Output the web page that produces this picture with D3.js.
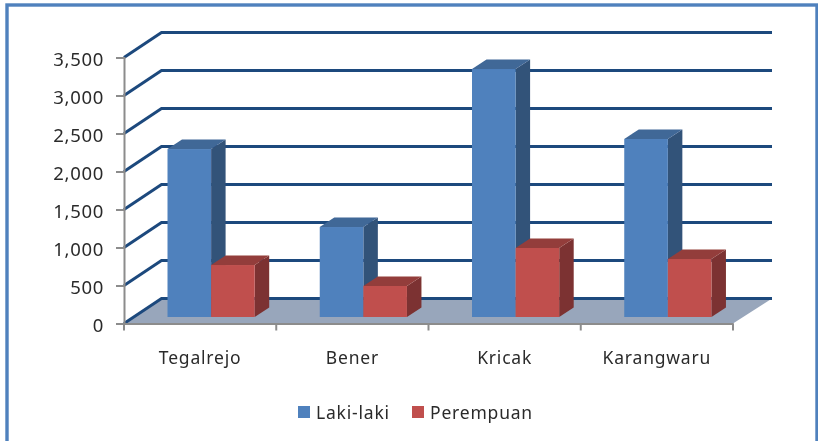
<!DOCTYPE html>
<html><head><meta charset="utf-8">
<script src="https://cdn.jsdelivr.net/npm/d3@7"></script>
<style>html,body{margin:0;padding:0;background:#fff}svg{display:block}text{font-family:"Noto Sans",sans-serif;fill:#2b2b2b}</style>
</head><body><svg id="c" width="818" height="441"></svg>
<script>
const categories = ["Tegalrejo","Bener","Kricak","Karangwaru"];
const seriesNames = ["Laki-laki","Perempuan"];
const lakiLaki = [2210,1184,3263,2342];
const perempuan = [684,408,908,763];
const yTicks = [0,500,1000,1500,2000,2500,3000,3500];
const colors = {front:["#4f81bd","#c0504d"],side:["#335279","#7c3230"],top:["#3f6797","#933e3b"]};

const svg = d3.select("#c");
const defs = svg.append("defs");
defs.append("filter").attr("id","soft").append("feGaussianBlur").attr("stdDeviation",0.45);
svg.append("rect").attr("x",7).attr("y",5).attr("width",810).attr("height",450)
  .attr("fill","#fff").attr("stroke","#4f81bd").attr("stroke-width",3.4);

const root = svg.append("g").attr("filter","url(#soft)");
const x = d3.scaleBand().domain(categories).range([124,733]);
const y = d3.scaleLinear().domain([0,3500]).range([323.5,57.5]);
const depth = {x:37.5,y:25}, barBase = 6.5, barDepth = {x:14.5,y:9.5};
const barW = 43.6, barInset = 43.5;

root.append("path").attr("fill","#98a6bb")
  .attr("d",d3.line()([[x.range()[0],y(0)],[x.range()[0]+depth.x,y(0)-depth.y],[x.range()[1]+depth.x+1.5,y(0)-depth.y],[x.range()[1],y(0)]]));
root.selectAll("path.grid").data(yTicks).join("path").attr("class","grid")
  .attr("fill","none").attr("stroke","#1f497d").attr("stroke-width",3)
  .attr("d",v=>d3.line()([[x.range()[0],y(v)],[x.range()[0]+depth.x,y(v)-depth.y],[x.range()[1]+depth.x+1.5,y(v)-depth.y]]));

const yAxis = d3.axisLeft(y).tickValues(yTicks).tickFormat(d3.format(",")).tickSize(8).tickPadding(12);
const gy = root.append("g").attr("transform","translate(124,0)").call(yAxis);
const xAxis = d3.axisBottom(x).tickValues([]).tickSize(0);
const gx = root.append("g").attr("transform",`translate(0,${y(0)})`).call(xAxis);
gx.selectAll("line.t").data(d3.range(categories.length+1)).join("line").attr("class","t")
  .attr("x1",i=>x.range()[0]+i*x.step()).attr("x2",i=>x.range()[0]+i*x.step()).attr("y1",0).attr("y2",7);
gx.selectAll("text.c").data(categories).join("text").attr("class","c")
  .attr("x",d=>x(d)+x.bandwidth()/2).attr("y",40).attr("text-anchor","middle")
  .attr("font-size",17.5).attr("letter-spacing",0.8).text(d=>d);
[gy,gx].forEach(g=>{g.selectAll("line,path.domain").attr("stroke","#8c8c8c").attr("stroke-width",2);});
gy.selectAll("text").attr("font-size",18.5).attr("letter-spacing",0.7).attr("dy","0.42em").style("font-family",'"Noto Sans",sans-serif').attr("fill","#2b2b2b");

const series = [lakiLaki,perempuan];
categories.forEach((c,i)=>{
  series.forEach((vals,s)=>{
    const x0 = x(c)+barInset+s*barW, x1 = x0+barW, b = y(0)-barBase, t = y(vals[i])-barBase;
    const g = root.append("g");
    g.append("path").attr("fill",colors.side[s])
      .attr("d",d3.line()([[x1,t],[x1+barDepth.x,t-barDepth.y],[x1+barDepth.x,b-barDepth.y],[x1,b]]));
    g.append("path").attr("fill",colors.top[s])
      .attr("d",d3.line()([[x0,t],[x0+barDepth.x,t-barDepth.y],[x1+barDepth.x,t-barDepth.y],[x1,t]]));
    g.append("rect").attr("x",x0).attr("y",t).attr("width",barW).attr("height",b-t).attr("fill",colors.front[s]);
  });
});

const legendX = [298,412];
seriesNames.forEach((n,i)=>{
  root.append("rect").attr("x",legendX[i]).attr("y",406).attr("width",12).attr("height",12).attr("fill",colors.front[i]);
  root.append("text").attr("x",legendX[i]+18).attr("y",418.5).attr("font-size",17.5).attr("letter-spacing",0.8).text(n);
});
</script></body></html>
